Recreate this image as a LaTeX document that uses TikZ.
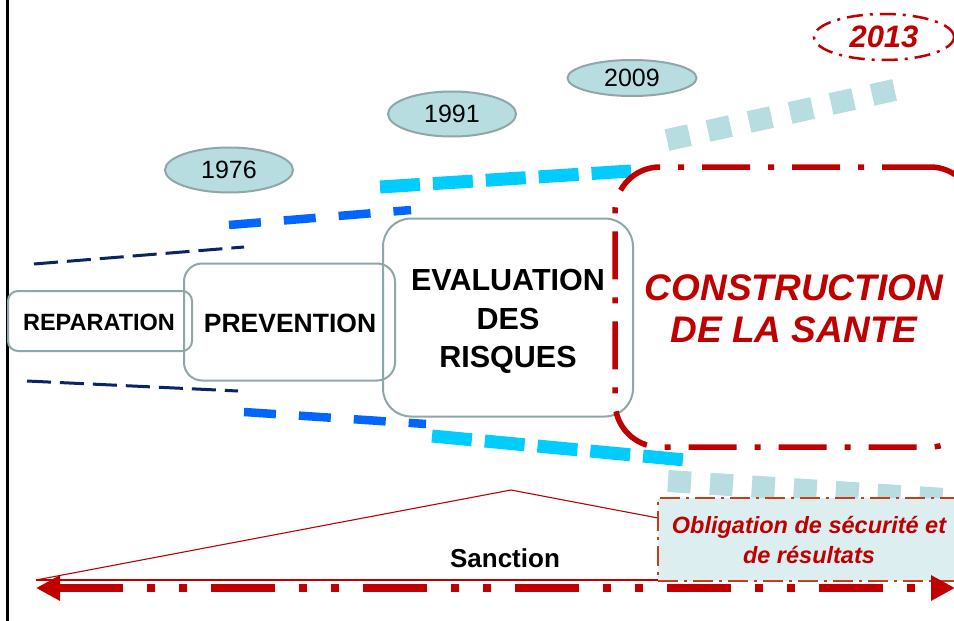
\documentclass[tikz,border=0pt]{standalone}
\usepackage{fontspec}
\setmainfont{Liberation Sans}
\usetikzlibrary{arrows.meta,shapes.geometric}
\definecolor{cred}{RGB}{192,0,0}
\definecolor{cnavy}{RGB}{10,36,100}
\definecolor{cblue}{RGB}{0,102,255}
\definecolor{ccyan}{RGB}{0,204,255}
\definecolor{clight}{RGB}{183,221,224}
\definecolor{cgray}{RGB}{143,167,168}
\definecolor{corange}{RGB}{204,60,20}
\definecolor{cfill}{RGB}{220,238,240}
\tikzset{
  graybox/.style={draw=cgray, line width=2pt, inner sep=0pt, align=center, font=\bfseries},
  yearell/.style={ellipse, draw=cgray, fill=clight, line width=2pt, inner sep=0pt, font=\fontsize{25}{28}\selectfont},
  navyline/.style={draw=cnavy, line width=3pt, dash pattern=on 24pt off 9pt},
  blueline/.style={draw=cblue, line width=8.5pt, dash pattern=on 32pt off 23pt},
  cyanline/.style={draw=ccyan, line width=13pt, dash pattern=on 40pt off 13pt},
  lightline/.style={draw=clight, line width=22pt, dash pattern=on 23pt off 19pt},
  thinred/.style={draw=cred, line width=1.1pt},
  boxtext/.style={align=center, inner sep=0pt},
}
\begin{document}
\begin{tikzpicture}[x=1pt,y=-1pt]
\clip (0,0) rectangle (954,621);
\fill[white] (0,0) rectangle (954,621);

% left vertical rule
\coordinate (vt) at (7.5,0);
\coordinate (vb) at (7.5,621);
\draw[black, line width=2.5pt] (vt) -- (vb);

% funnel lines
\coordinate (nu1) at (34,264);  \coordinate (nu2) at (244,247);
\coordinate (nl1) at (27,381);  \coordinate (nl2) at (238,391);
\coordinate (bu1) at (229,225); \coordinate (bu2) at (411,210);
\coordinate (bl1) at (244,412); \coordinate (bl2) at (426,424);
\coordinate (cu1) at (380,187); \coordinate (cu2) at (631,171);
\coordinate (cl1) at (432,436); \coordinate (cl2) at (685,460);
\coordinate (lu1) at (667,140); \coordinate (lu2) at (899,89);
\coordinate (ll1) at (668,481); \coordinate (ll2) at (960,500);
\draw[navyline] (nu1) -- (nu2);
\draw[navyline] (nl1) -- (nl2);
\draw[blueline] (bu1) -- (bu2);
\draw[blueline] (bl1) -- (bl2);
\draw[cyanline] (cu1) -- (cu2);
\draw[cyanline] (cl1) -- (cl2);
\draw[lightline] (lu1) -- (lu2);
\draw[lightline] (ll1) -- (ll2);

% year ellipses
\node[yearell, minimum width=128pt, minimum height=45pt] (y76) at (229,170) {1976};
\node[yearell, minimum width=128pt, minimum height=45pt] (y91) at (452,114) {1991};
\node[yearell, minimum width=129pt, minimum height=36pt] (y09) at (632,78) {2009};
\node[ellipse, draw=cred, line width=2.5pt, dash pattern=on 16pt off 7pt on 3pt off 7pt,
      minimum width=140pt, minimum height=46pt, inner sep=0pt, text=cred,
      font=\fontsize{31}{34}\selectfont\bfseries\itshape] (y13) at (884,37) {2013};

% stage boxes
\node[graybox, rounded corners=10pt, minimum width=184pt, minimum height=60pt] (rep) at (100,321) {};
\node[boxtext, font=\fontsize{23.5}{26}\selectfont\bfseries] (reptxt) at (99,322.5) {REPARATION};
\node[graybox, rounded corners=18pt, minimum width=211pt, minimum height=117pt] (prev) at (289.5,322) {};
\node[boxtext, font=\fontsize{26.5}{30}\selectfont\bfseries] (prevtxt) at (290,323.5) {PREVENTION};
\node[graybox, rounded corners=28pt, minimum width=250pt, minimum height=198pt] (eval) at (508,317.5) {};
\node[boxtext, font=\fontsize{30.5}{38.5}\selectfont\bfseries] (evaltxt) at (508,321.5) {EVALUATION\\DES\\RISQUES};

% construction box
\node[draw=cred, line width=5.5pt, dash pattern=on 48pt off 18pt on 6pt off 18pt,
      rounded corners=45pt, minimum width=360pt, minimum height=280pt, inner sep=0pt] (cons) at (795,307) {};
\node[boxtext, text=cred, font=\fontsize{37}{42}\selectfont\bfseries\itshape]
      (constxt) at (794,309) {CONSTRUCTION\\DE LA SANTE};

% sanction wedge
\coordinate (wl) at (36,580);
\coordinate (wa) at (511,490);
\coordinate (wr) at (658,518);
\coordinate (wb) at (658,580);
\draw[thinred] (wl) -- (wa) -- (wr);
\draw[thinred] (wl) -- (wb);
\node[font=\fontsize{26}{28}\selectfont\bfseries] (sanc) at (505,558) {Sanction};

% obligation box
\node[draw=corange, fill=cfill, line width=2.5pt, dash pattern=on 20pt off 6pt on 3pt off 6pt,
      minimum width=302pt, minimum height=83pt, inner sep=0pt, align=center, text=cred,
      font=\fontsize{23.5}{30}\selectfont\bfseries\itshape]
      (obl) at (809,539.5) {Obligation de sécurité et\\de résultats};

% bottom double arrow
\coordinate (al) at (36,588);
\coordinate (ar) at (955,588);
\draw[cred, line width=8pt, dash pattern=on 64pt off 24pt on 8pt off 24pt on 8pt off 24pt,
      {Triangle[length=24pt,width=24pt]}-{Triangle[length=24pt,width=24pt]}] (al) -- (ar);
\end{tikzpicture}
\end{document}
